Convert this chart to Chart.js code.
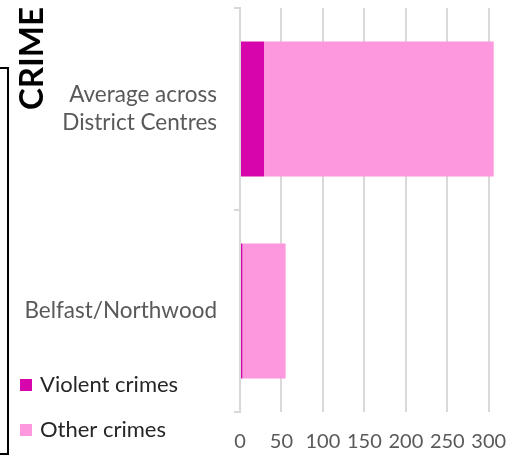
<!DOCTYPE html>
<html>
<head>
<meta charset="utf-8">
<script src="https://cdn.jsdelivr.net/npm/chart.js@4/dist/chart.umd.min.js"></script>
<style>
  html, body { margin: 0; padding: 0; background: #fff; }
  #wrap { position: relative; width: 525px; height: 459px; overflow: hidden; }
  #frame { position: absolute; left: -100px; top: 67px; width: 105px; height: 384px; border: 2px solid #000; }
  canvas { position: absolute; left: 0; top: 0; }
</style>
</head>
<body>
<div id="wrap">
  <div id="frame"></div>
  <canvas id="c" width="525" height="459"></canvas>
</div>
<script>
const categories = [["Average across", "District Centres"], "Belfast/Northwood"];
const violentCrimes = [29, 3];
const otherCrimes = [277, 52];
const seriesNames = ["Violent crimes", "Other crimes"];
const seriesColors = ["#D605AC", "#FE98DE"];
const xTickValues = [0, 50, 100, 150, 200, 250, 300];
const sideTitle = "CRIME";

const FONT = "Lato, 'Open Sans', sans-serif";

const sidePlugin = {
  id: 'sideDecor',
  afterDraw(chart) {
    const ctx = chart.ctx;
    ctx.save();
    ctx.translate(43, 110);
    ctx.rotate(-Math.PI / 2);
    ctx.font = "bold 33px " + FONT;
    ctx.fillStyle = "#000";
    ctx.textAlign = "left";
    ctx.textBaseline = "alphabetic";
    ctx.fillText(sideTitle, 0, 0);
    ctx.restore();
    ctx.save();
    const ys = [385, 430];
    chart.data.datasets.forEach((ds, i) => {
      ctx.fillStyle = ds.backgroundColor;
      ctx.fillRect(20, ys[i] - 6, 12, 12);
      ctx.fillStyle = "#262626";
      ctx.font = "22px " + FONT;
      ctx.textAlign = "left";
      ctx.textBaseline = "middle";
      ctx.fillText(ds.label, 40, ys[i]);
    });
    ctx.restore();
  }
};

new Chart(document.getElementById('c'), {
  type: 'bar',
  data: {
    labels: categories,
    datasets: [
      { label: seriesNames[0], data: violentCrimes, backgroundColor: seriesColors[0], borderWidth: 0 },
      { label: seriesNames[1], data: otherCrimes, backgroundColor: seriesColors[1], borderWidth: 0 }
    ]
  },
  options: {
    indexAxis: 'y',
    responsive: false,
    animation: false,
    devicePixelRatio: 1,
    categoryPercentage: 1,
    barPercentage: 0.668,
    layout: { padding: { left: 0, right: 26.5, top: 8, bottom: 0 } },
    plugins: { legend: { display: false }, tooltip: { enabled: false } },
    scales: {
      x: {
        stacked: true,
        min: 0,
        max: 310,
        afterBuildTicks(scale) {
          scale.ticks = xTickValues.map(v => ({ value: v }));
        },
        afterFit(scale) { scale.height = 47; },
        border: { display: false },
        grid: { color: '#d9d9d9', lineWidth: 2, drawTicks: false },
        ticks: { color: '#595959', font: { family: FONT, size: 20 }, padding: 18, maxRotation: 0, autoSkip: false }
      },
      y: {
        stacked: true,
        afterFit(scale) { scale.width = 240; scale.paddingTop = 0; scale.paddingBottom = 0; },
        border: { display: true, color: '#d9d9d9', width: 2 },
        grid: { color: '#d9d9d9', lineWidth: 2, drawOnChartArea: false, tickLength: 6, offset: true },
        ticks: { color: '#595959', font: { family: FONT, size: 22.5, lineHeight: 1.25 }, padding: 17 }
      }
    }
  },
  plugins: [sidePlugin]
});
</script>
</body>
</html>
